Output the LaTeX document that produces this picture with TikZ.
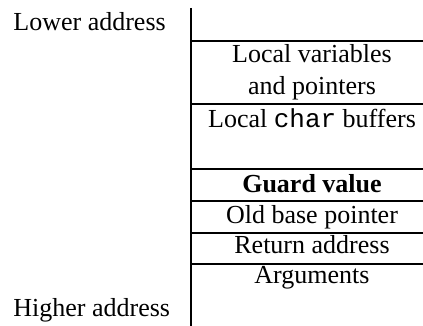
\documentclass[tikz,border=0pt]{standalone}
\usepackage{fontspec}
\setmainfont{Liberation Serif}
\setmonofont{Liberation Mono}

\begin{document}
\begin{tikzpicture}[x=0.5pt,y=-0.5pt,
	txt/.style={inner sep=0pt,anchor=base,font=\fontsize{13}{15}\selectfont},
	wall/.style={line width=1pt}]
	\useasboundingbox (0,0) rectangle (423,326);

	% stack
	\draw[wall] (191,8) -- (191,326);
	\foreach \y in {41,104,168.5,201,232.5,263.5}
		\draw[wall] (191,\y) -- (423,\y);

	% addresses
	\node[txt,anchor=base west] (lower) at (13,31) {Lower address};
	\node[txt,anchor=base west] (higher) at (13,316) {Higher address};

	% frame contents
	\node[txt] (locvars) at (312,63) {Local variables};
	\node[txt] (locptrs) at (312,95) {and pointers};
	\node[txt] (buffers) at (312,127) {Local \texttt{char} buffers};
	\node[txt] (guard) at (312,192) {\textbf{Guard value}};
	\node[txt] (oldbase) at (312,223) {Old base pointer};
	\node[txt] (retaddr) at (312,253) {Return address};
	\node[txt] (args) at (312,283) {Arguments};
\end{tikzpicture}
\end{document}
